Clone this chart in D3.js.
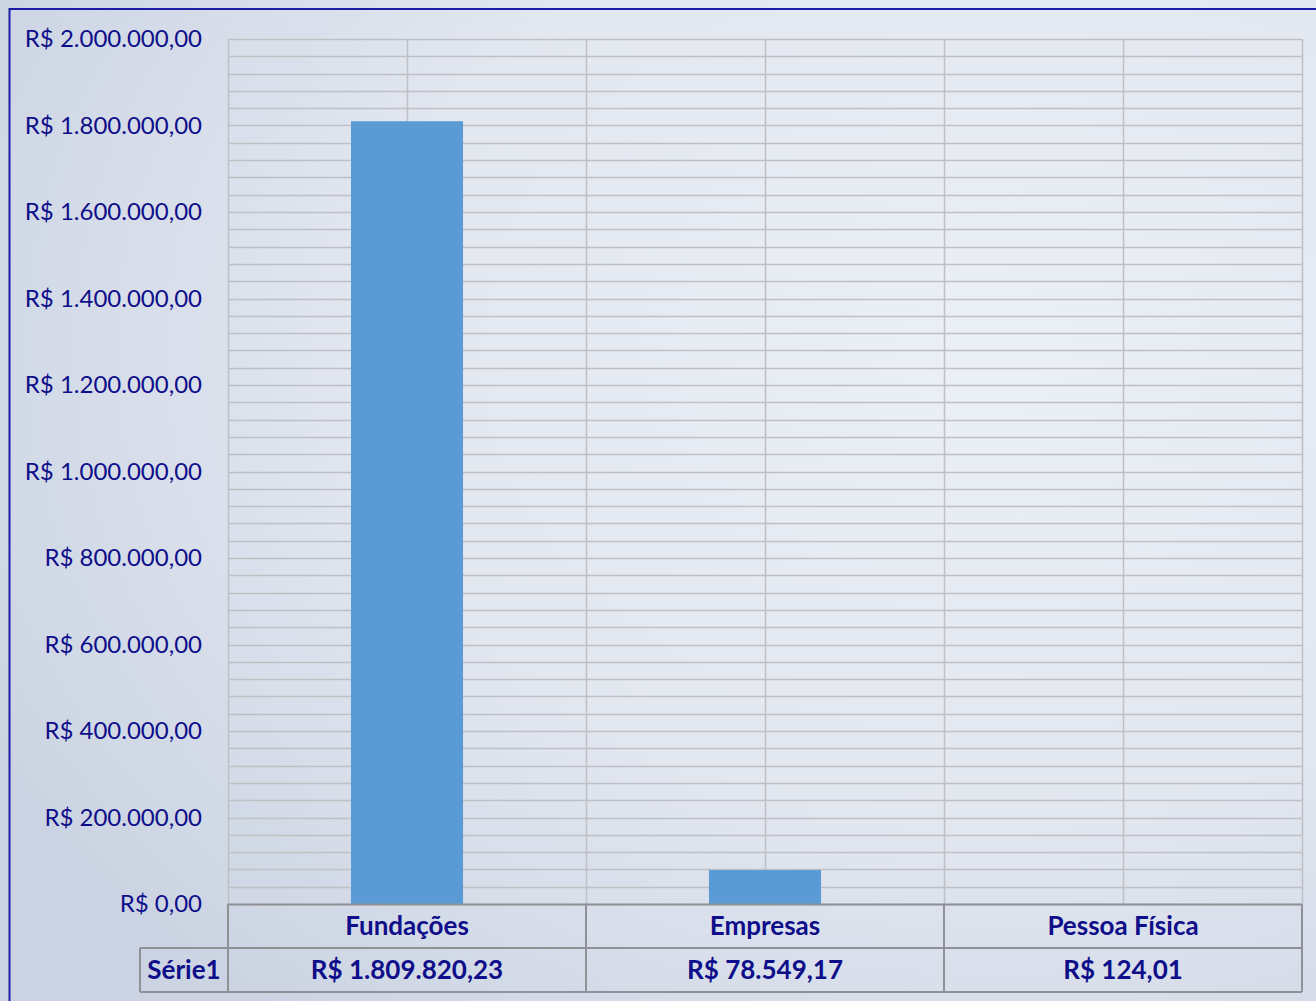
<!DOCTYPE html>
<html>
<head>
<meta charset="utf-8">
<script src="https://cdn.jsdelivr.net/npm/d3@7"></script>
<style>
  html, body { margin: 0; padding: 0; overflow: hidden; }
  text { font-family: Lato, "Open Sans", sans-serif; }
</style>
</head>
<body>
<script>
var w = 1316;
var h = 1001;

var categories = ["Fundações", "Empresas", "Pessoa Física"];
var values = [1809820.23, 78549.17, 124.01];
var seriesName = "Série1";
var yTicks = [0, 200000, 400000, 600000, 800000, 1000000, 1200000, 1400000, 1600000, 1800000, 2000000];

var plotLeft = 228, plotRight = 1302, plotTop = 39, plotBottom = 904;
var rowH = 44;
var textColor = "#0e0e8a";

var br = d3.formatLocale({ decimal: ",", thousands: ".", grouping: [3], currency: ["R$ ", ""] });
var money = br.format("$,.2f");

var svg = d3.select("body").append("svg")
    .attr("width", w)
    .attr("height", h);

// background
var defs = svg.append("defs");
var grad = defs.append("radialGradient")
    .attr("id", "bg")
    .attr("cx", "75%").attr("cy", "35%").attr("r", "85%");
grad.append("stop").attr("offset", "0%").attr("stop-color", "#ebeff6");
grad.append("stop").attr("offset", "55%").attr("stop-color", "#e2e7f0");
grad.append("stop").attr("offset", "100%").attr("stop-color", "#ccd4e3");

svg.append("rect").attr("width", w).attr("height", h).attr("fill", "url(#bg)");
svg.append("rect")
    .attr("x", 9.5).attr("y", 9).attr("width", w + 20).attr("height", h + 20)
    .attr("fill", "none").attr("stroke", "#1c1ca6").attr("stroke-width", 2);

var x = d3.scaleBand().domain(categories).range([plotLeft, plotRight]).padding(0);
var y = d3.scaleLinear().domain([0, 2000000]).range([plotBottom, plotTop]);

// minor gridlines every 40.000
svg.append("g")
    .selectAll("line")
    .data(d3.range(0, 2000001, 40000))
    .enter().append("line")
    .attr("x1", plotLeft).attr("x2", plotRight)
    .attr("y1", function(d) { return Math.round(y(d)) + 0.5; })
    .attr("y2", function(d) { return Math.round(y(d)) + 0.5; })
    .attr("stroke", "#bfc0c3").attr("stroke-width", 1.5);

// vertical gridlines: band edges and centers
var vlines = [plotLeft];
categories.forEach(function(c) {
    vlines.push(x(c) + x.bandwidth() / 2);
    vlines.push(x(c) + x.bandwidth());
});
svg.append("g")
    .selectAll("line")
    .data(vlines)
    .enter().append("line")
    .attr("x1", function(d) { return Math.round(d) + 0.5; })
    .attr("x2", function(d) { return Math.round(d) + 0.5; })
    .attr("y1", plotTop).attr("y2", plotBottom)
    .attr("stroke", "#bfc0c3").attr("stroke-width", 1.5);

// bars
var barW = x.bandwidth() * 0.313;
svg.selectAll("rect.bar")
    .data(values)
    .enter().append("rect")
    .attr("class", "bar")
    .attr("x", function(d, i) { return x(categories[i]) + (x.bandwidth() - barW) / 2; })
    .attr("width", barW)
    .attr("y", function(d) { return y(d); })
    .attr("height", function(d) { return plotBottom - y(d); })
    .attr("fill", "#5b9bd5");

// y axis labels
var yAxis = d3.axisLeft(y)
    .tickValues(yTicks)
    .tickSize(0)
    .tickPadding(0)
    .tickFormat(money);
var ya = svg.append("g")
    .attr("transform", "translate(202,0)")
    .call(yAxis);
ya.select(".domain").remove();
ya.selectAll("text")
    .attr("fill", textColor)
    .style("font-size", "24px")
    .style("font-family", "Lato, 'Open Sans', sans-serif");

// data table
var tbl = svg.append("g");
var lineColor = "#8f9196";
tbl.append("line").attr("x1", plotLeft).attr("x2", plotRight).attr("y1", plotBottom + 0.5).attr("y2", plotBottom + 0.5)
    .attr("stroke", lineColor).attr("stroke-width", 2);
tbl.append("line").attr("x1", 140).attr("x2", plotRight).attr("y1", plotBottom + rowH).attr("y2", plotBottom + rowH)
    .attr("stroke", lineColor).attr("stroke-width", 2);
tbl.append("line").attr("x1", 140).attr("x2", plotRight).attr("y1", plotBottom + 2 * rowH).attr("y2", plotBottom + 2 * rowH)
    .attr("stroke", lineColor).attr("stroke-width", 2);
var edges = [plotLeft].concat(categories.map(function(c) { return x(c) + x.bandwidth(); }));
tbl.selectAll("line.v")
    .data(edges)
    .enter().append("line")
    .attr("class", "v")
    .attr("x1", function(d) { return Math.round(d); })
    .attr("x2", function(d) { return Math.round(d); })
    .attr("y1", plotBottom).attr("y2", plotBottom + 2 * rowH)
    .attr("stroke", lineColor).attr("stroke-width", 2);
tbl.append("line").attr("x1", 140).attr("x2", 140).attr("y1", plotBottom + rowH).attr("y2", plotBottom + 2 * rowH)
    .attr("stroke", lineColor).attr("stroke-width", 2);

tbl.selectAll("text.cat")
    .data(categories)
    .enter().append("text")
    .attr("class", "cat")
    .attr("x", function(d) { return x(d) + x.bandwidth() / 2; })
    .attr("y", plotBottom + rowH / 2)
    .attr("dy", "0.35em")
    .attr("text-anchor", "middle")
    .attr("fill", textColor)
    .style("font-size", "26px")
    .style("font-weight", "bold")
    .text(function(d) { return d; });

tbl.selectAll("text.val")
    .data(values)
    .enter().append("text")
    .attr("class", "val")
    .attr("x", function(d, i) { return x(categories[i]) + x.bandwidth() / 2; })
    .attr("y", plotBottom + rowH * 1.5)
    .attr("dy", "0.35em")
    .attr("text-anchor", "middle")
    .attr("fill", textColor)
    .style("font-size", "26px")
    .style("font-weight", "bold")
    .text(function(d) { return money(d); });

tbl.append("text")
    .attr("x", 184)
    .attr("y", plotBottom + rowH * 1.5)
    .attr("dy", "0.35em")
    .attr("text-anchor", "middle")
    .attr("fill", textColor)
    .style("font-size", "26px")
    .style("font-weight", "bold")
    .text(seriesName);
</script>
</body>
</html>
